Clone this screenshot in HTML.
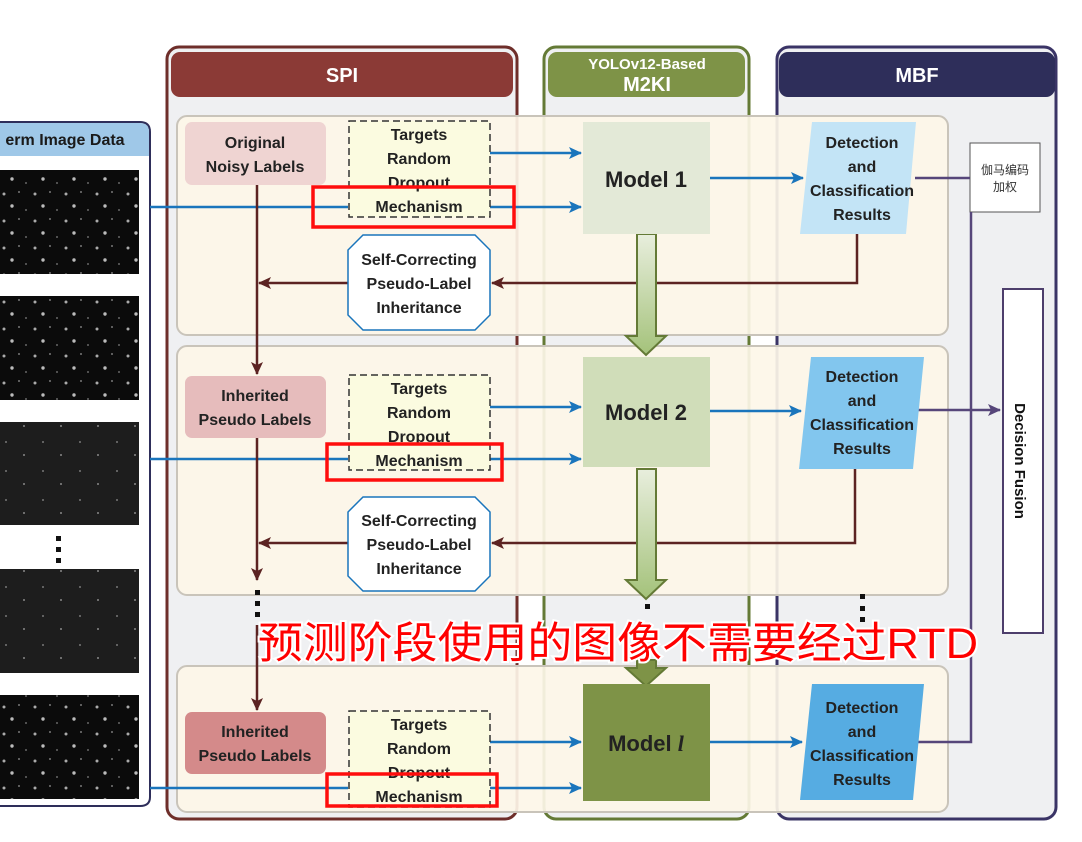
<!DOCTYPE html>
<html><head><meta charset="utf-8"><style>
html,body{margin:0;padding:0;background:#fff;width:1082px;height:842px;overflow:hidden}
text{font-family:"Liberation Sans","Noto Sans CJK SC",sans-serif;font-weight:bold}
</style></head><body>
<svg width="1082" height="842" viewBox="0 0 1082 842" xmlns="http://www.w3.org/2000/svg">
<defs>
<pattern id="dots" width="31" height="27" patternUnits="userSpaceOnUse">
<rect width="31" height="27" fill="#0b0b0b"/>
<circle cx="4" cy="5" r="1.5" fill="#aaa"/><circle cx="19" cy="3" r="1" fill="#777"/>
<circle cx="12" cy="17" r="1.7" fill="#bbb"/><circle cx="26" cy="21" r="1" fill="#666"/>
</pattern>
<pattern id="dots2" width="37" height="29" patternUnits="userSpaceOnUse">
<rect width="37" height="29" fill="#1d1d1d"/>
<circle cx="6" cy="7" r="1" fill="#777"/><circle cx="24" cy="20" r="1" fill="#888"/>
</pattern>
<linearGradient id="gA" x1="0" y1="0" x2="0" y2="1"><stop offset="0" stop-color="#e8eedd"/><stop offset="1" stop-color="#a4c27a"/></linearGradient>
<marker id="ab" markerWidth="14" markerHeight="14" refX="12" refY="7" orient="auto" markerUnits="userSpaceOnUse"><path d="M0,1 L13,7 L0,13 L3,7 Z" fill="#1a75bc"/></marker>
<marker id="ar" markerWidth="14" markerHeight="14" refX="12" refY="7" orient="auto" markerUnits="userSpaceOnUse"><path d="M0,1 L13,7 L0,13 L3,7 Z" fill="#5c2322"/></marker>
<marker id="ap" markerWidth="14" markerHeight="14" refX="12" refY="7" orient="auto" markerUnits="userSpaceOnUse"><path d="M0,1 L13,7 L0,13 L3,7 Z" fill="#56467a"/></marker>
</defs>

<path d="M0,122 H140 Q150,122 150,132 V797 Q150,806 140,806 H0" fill="#fff" stroke="#2e2e5a" stroke-width="2"/>
<path d="M0,123 H140 Q149,123 149,132 V156 H0 Z" fill="#9fc8e8"/>
<text x="65" y="145" font-size="16" text-anchor="middle" fill="#1a1a1a">erm Image Data</text>
<rect x="0" y="170" width="139" height="104" fill="url(#dots)"/>
<rect x="0" y="296" width="139" height="104" fill="url(#dots)"/>
<rect x="0" y="422" width="139" height="103" fill="url(#dots2)"/>
<rect x="0" y="569" width="139" height="104" fill="url(#dots2)"/>
<rect x="0" y="695" width="139" height="104" fill="url(#dots)"/>
<rect x="56" y="536" width="5" height="5" fill="#111"/><rect x="56" y="547" width="5" height="5" fill="#111"/><rect x="56" y="558" width="5" height="5" fill="#111"/>

<rect x="167" y="47" width="350" height="772" rx="12" fill="#eff0f2" stroke="#6e2e2a" stroke-width="3"/>
<rect x="171" y="52" width="342" height="45" rx="9" fill="#8b3a36"/>
<text x="342" y="82" font-size="20" text-anchor="middle" fill="#fff">SPI</text>
<rect x="544" y="47" width="205" height="772" rx="12" fill="#eff0f2" stroke="#647a36" stroke-width="3"/>
<rect x="548" y="52" width="197" height="45" rx="9" fill="#7e9347"/>
<text x="647" y="69" font-size="15" text-anchor="middle" fill="#fff">YOLOv12-Based</text>
<text x="647" y="91" font-size="20" text-anchor="middle" fill="#fff">M2KI</text>
<rect x="777" y="47" width="279" height="772" rx="12" fill="#eff0f2" stroke="#3a3466" stroke-width="3"/>
<rect x="779" y="52" width="276" height="45" rx="9" fill="#2e2e5a"/>
<text x="917" y="82" font-size="20" text-anchor="middle" fill="#fff">MBF</text>

<g fill="#fdf6e8" fill-opacity="0.92" stroke="#c9c4ba" stroke-width="2">
<rect x="177" y="116" width="771" height="219" rx="10"/>
<rect x="177" y="346" width="771" height="249" rx="10"/>
<rect x="177" y="666" width="771" height="146" rx="10"/>
</g>

<rect x="970" y="143" width="70" height="69" fill="#fff" stroke="#555" stroke-width="1"/>
<text x="1005" y="174" font-size="12" style="font-weight:normal" text-anchor="middle" fill="#333">伽马编码</text>
<text x="1005" y="191" font-size="12" style="font-weight:normal" text-anchor="middle" fill="#333">加权</text>
<rect x="1003" y="289" width="40" height="344" fill="#fff" stroke="#4d3e6c" stroke-width="2"/>
<text transform="translate(1015,461) rotate(90)" font-size="15" text-anchor="middle" fill="#111">Decision Fusion</text>
<g stroke="#56467a" stroke-width="2.5" fill="none">
<path d="M915,178 H970"/>
<path d="M971,212 V742 H915"/>
<path d="M915,410 H1000" marker-end="url(#ap)"/>
</g>

<g stroke="#1a75bc" stroke-width="2.5" fill="none">
<path d="M490,153 H581" marker-end="url(#ab)"/>
<path d="M490,207 H581" marker-end="url(#ab)"/>
<path d="M709,178 H803" marker-end="url(#ab)"/>
<path d="M490,407 H581" marker-end="url(#ab)"/>
<path d="M490,459 H581" marker-end="url(#ab)"/>
<path d="M709,411 H801" marker-end="url(#ab)"/>
<path d="M490,742 H581" marker-end="url(#ab)"/>
<path d="M490,788 H581" marker-end="url(#ab)"/>
<path d="M709,742 H802" marker-end="url(#ab)"/>
<path d="M150,207 H348"/><path d="M150,459 H348"/><path d="M150,788 H348"/>
</g>

<g stroke="#5c2322" stroke-width="2.5" fill="none">
<path d="M857,234 V283 H492" marker-end="url(#ar)"/>
<path d="M348,283 H259" marker-end="url(#ar)"/>
<path d="M257,185 V374" marker-end="url(#ar)"/>
<path d="M855,469 V543 H492" marker-end="url(#ar)"/>
<path d="M348,543 H259" marker-end="url(#ar)"/>
<path d="M257,438 V580" marker-end="url(#ar)"/>
<path d="M257,625 V710" marker-end="url(#ar)"/>
</g>
<rect x="255" y="590" width="5" height="5" fill="#111"/><rect x="255" y="601" width="5" height="5" fill="#111"/><rect x="255" y="612" width="5" height="5" fill="#111"/>
<rect x="645" y="604" width="5" height="5" fill="#111"/>
<rect x="860" y="594" width="5" height="5" fill="#111"/><rect x="860" y="606" width="5" height="5" fill="#111"/><rect x="860" y="617" width="5" height="5" fill="#111"/>

<path d="M637,234 H656 V336 H666 L646,355 L626,336 H637 Z" fill="url(#gA)" stroke="#647a36" stroke-width="2"/>
<path d="M637,469 H656 V580 H666 L646,599 L626,580 H637 Z" fill="url(#gA)" stroke="#647a36" stroke-width="2"/>
<path d="M637,660 H656 V668 H666 L646,686 L626,668 H637 Z" fill="#7e9347" stroke="#647a36" stroke-width="2"/>

<rect x="185" y="122" width="141" height="63" rx="7" fill="#efd4d2"/>
<text x="255" y="148" font-size="16" text-anchor="middle" fill="#222">Original</text>
<text x="255" y="172" font-size="16" text-anchor="middle" fill="#222">Noisy Labels</text>
<rect x="583" y="122" width="127" height="112" fill="#e3e9d7"/>
<text x="646" y="187" font-size="22" text-anchor="middle" fill="#222">Model 1</text>
<polygon points="812,122 916,122 906,234 800,234" fill="#c3e4f6"/>
<g font-size="16" text-anchor="middle" fill="#222"><text x="862" y="148">Detection</text><text x="862" y="172">and</text><text x="862" y="196">Classification</text><text x="862" y="220">Results</text></g>

<rect x="185" y="376" width="141" height="62" rx="7" fill="#e6bcbc"/>
<text x="255" y="401" font-size="16" text-anchor="middle" fill="#222">Inherited</text>
<text x="255" y="425" font-size="16" text-anchor="middle" fill="#222">Pseudo Labels</text>
<rect x="583" y="357" width="127" height="110" fill="#d0ddb9"/>
<text x="646" y="420" font-size="22" text-anchor="middle" fill="#222">Model 2</text>
<polygon points="811,357 924,357 913,469 799,469" fill="#82c6ee"/>
<g font-size="16" text-anchor="middle" fill="#222"><text x="862" y="382">Detection</text><text x="862" y="406">and</text><text x="862" y="430">Classification</text><text x="862" y="454">Results</text></g>

<rect x="185" y="712" width="141" height="62" rx="7" fill="#d48a8a"/>
<text x="255" y="737" font-size="16" text-anchor="middle" fill="#222">Inherited</text>
<text x="255" y="761" font-size="16" text-anchor="middle" fill="#222">Pseudo Labels</text>
<rect x="583" y="684" width="127" height="117" fill="#7e9347"/>
<text x="646" y="751" font-size="22" text-anchor="middle" fill="#222">Model <tspan font-style="italic" font-family="Liberation Serif">l</tspan></text>
<polygon points="812,684 924,684 913,800 800,800" fill="#56ace2"/>
<g font-size="16" text-anchor="middle" fill="#222"><text x="862" y="713">Detection</text><text x="862" y="737">and</text><text x="862" y="761">Classification</text><text x="862" y="785">Results</text></g>

<rect x="349" y="121" width="141" height="96" fill="#fbfbe0" stroke="#333" stroke-width="1.5" stroke-dasharray="7,4"/>
<rect x="349" y="375" width="141" height="95" fill="#fbfbe0" stroke="#333" stroke-width="1.5" stroke-dasharray="7,4"/>
<rect x="349" y="711" width="141" height="96" fill="#fbfbe0" stroke="#333" stroke-width="1.5" stroke-dasharray="7,4"/>
<g font-size="16" text-anchor="middle" fill="#222">
<text x="419" y="140">Targets</text><text x="419" y="164">Random</text><text x="419" y="188">Dropout</text><text x="419" y="212">Mechanism</text>
<text x="419" y="394">Targets</text><text x="419" y="418">Random</text><text x="419" y="442">Dropout</text><text x="419" y="466">Mechanism</text>
<text x="419" y="730">Targets</text><text x="419" y="754">Random</text><text x="419" y="778">Dropout</text><text x="419" y="802">Mechanism</text>
</g>
<g stroke="#ff0d0d" stroke-width="3.5" fill="none">
<rect x="313" y="187" width="201" height="40"/>
<rect x="327" y="444" width="175" height="36"/>
<rect x="327" y="774" width="170" height="32"/>
</g>

<g fill="#fff" stroke="#1a75bc" stroke-width="1.5">
<polygon points="363,235 475,235 490,250 490,315 475,330 363,330 348,315 348,250"/>
<polygon points="363,497 475,497 490,512 490,576 475,591 363,591 348,576 348,512"/>
</g>
<g font-size="16" text-anchor="middle" fill="#222">
<text x="419" y="265">Self-Correcting</text><text x="419" y="289">Pseudo-Label</text><text x="419" y="313">Inheritance</text>
<text x="419" y="526">Self-Correcting</text><text x="419" y="550">Pseudo-Label</text><text x="419" y="574">Inheritance</text>
</g>

<text x="258" y="658" font-size="43" style="font-weight:normal" fill="#ff0000" stroke="#fff" stroke-width="4" paint-order="stroke" textLength="720" lengthAdjust="spacingAndGlyphs">预测阶段使用的图像不需要经过RTD</text>
</svg>
</body></html>
